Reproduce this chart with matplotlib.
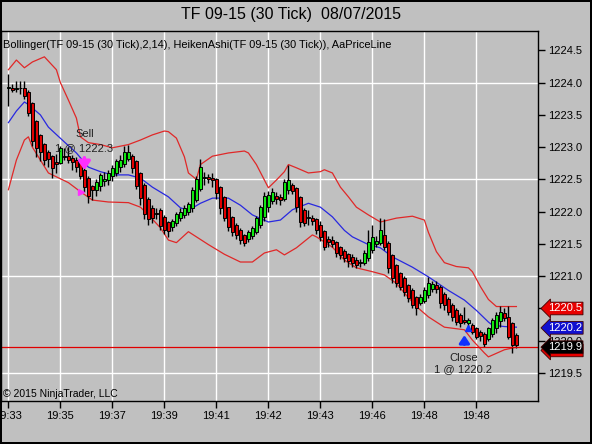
import matplotlib
matplotlib.use("Agg")
import matplotlib.pyplot as plt
import matplotlib.transforms as mtransforms
import numpy as np

plt.rcParams['font.family'] = ['Liberation Sans', 'DejaVu Sans']

# Heiken-Ashi bars (30 tick), one value per bar
ha_open = [1223.92, 1223.92, 1223.90, 1223.91, 1223.92, 1223.86, 1223.69, 1223.40, 1223.19, 1223.05,
           1222.93, 1222.87, 1222.77, 1222.76, 1222.87, 1222.86, 1222.83, 1222.80, 1222.75, 1222.65,
           1222.52, 1222.40, 1222.34, 1222.40, 1222.48, 1222.49, 1222.55, 1222.60, 1222.69, 1222.74,
           1222.82, 1222.87, 1222.78, 1222.60, 1222.42, 1222.20, 1222.05, 1221.98, 1222.02, 1221.92,
           1221.84, 1221.76, 1221.82, 1221.90, 1221.95, 1222.00, 1222.05, 1222.18, 1222.35, 1222.52,
           1222.54, 1222.52, 1222.50, 1222.38, 1222.22, 1222.07, 1221.92, 1221.80, 1221.72, 1221.64,
           1221.57, 1221.62, 1221.68, 1221.79, 1221.92, 1222.08, 1222.17, 1222.24, 1222.22, 1222.20,
           1222.33, 1222.41, 1222.36, 1222.22, 1222.03, 1221.92, 1221.90, 1221.88, 1221.80, 1221.70,
           1221.58, 1221.56, 1221.53, 1221.45, 1221.39, 1221.34, 1221.30, 1221.25, 1221.22, 1221.21,
           1221.28, 1221.40, 1221.50, 1221.52, 1221.64, 1221.52, 1221.33, 1221.17, 1221.05, 1220.97,
           1220.86, 1220.79, 1220.68, 1220.58, 1220.62, 1220.71, 1220.80, 1220.86, 1220.83, 1220.72,
           1220.64, 1220.56, 1220.48, 1220.40, 1220.32, 1220.28, 1220.25, 1220.20, 1220.13, 1220.10,
           1220.03, 1220.11, 1220.20, 1220.30, 1220.43, 1220.37, 1220.27, 1220.09]
ha_close = [1223.93, 1223.88, 1223.92, 1223.92, 1223.80, 1223.53, 1223.10, 1222.98, 1222.92, 1222.80,
            1222.82, 1222.68, 1222.74, 1222.98, 1222.84, 1222.80, 1222.77, 1222.70, 1222.55, 1222.38,
            1222.25, 1222.34, 1222.46, 1222.57, 1222.50, 1222.60, 1222.68, 1222.78, 1222.80, 1222.92,
            1222.93, 1222.68, 1222.40, 1222.21, 1221.96, 1221.88, 1221.90, 1221.97, 1221.78, 1221.72,
            1221.70, 1221.85, 1221.97, 1222.00, 1222.05, 1222.12, 1222.33, 1222.50, 1222.69, 1222.54,
            1222.50, 1222.49, 1222.29, 1222.06, 1221.90, 1221.77, 1221.69, 1221.64, 1221.56, 1221.51,
            1221.68, 1221.75, 1221.90, 1222.07, 1222.25, 1222.26, 1222.31, 1222.20, 1222.18, 1222.46,
            1222.49, 1222.32, 1222.07, 1221.84, 1221.82, 1221.90, 1221.86, 1221.72, 1221.60, 1221.45,
            1221.53, 1221.50, 1221.36, 1221.33, 1221.28, 1221.24, 1221.20, 1221.18, 1221.20, 1221.36,
            1221.53, 1221.61, 1221.55, 1221.72, 1221.45, 1221.13, 1220.97, 1220.89, 1220.83, 1220.76,
            1220.66, 1220.55, 1220.51, 1220.68, 1220.79, 1220.89, 1220.88, 1220.80, 1220.58, 1220.55,
            1220.45, 1220.37, 1220.29, 1220.27, 1220.29, 1220.32, 1220.14, 1220.06, 1220.07, 1219.95,
            1220.20, 1220.32, 1220.40, 1220.45, 1220.36, 1220.06, 1219.93, 1219.93]
ha_high = [1224.13, 1223.98, 1224.02, 1224.02, 1224.02, 1223.88, 1223.70, 1223.42, 1223.20, 1223.06,
           1222.95, 1222.88, 1222.90, 1223.02, 1222.98, 1223.00, 1222.88, 1222.85, 1222.80, 1222.68,
           1222.55, 1222.42, 1222.50, 1222.60, 1222.62, 1222.65, 1222.72, 1222.82, 1222.88, 1223.02,
           1223.03, 1222.90, 1222.80, 1222.62, 1222.44, 1222.22, 1222.10, 1222.05, 1222.06, 1221.95,
           1221.86, 1221.88, 1222.00, 1222.06, 1222.10, 1222.15, 1222.38, 1222.55, 1222.82, 1222.62,
           1222.58, 1222.60, 1222.52, 1222.40, 1222.24, 1222.08, 1221.94, 1221.82, 1221.74, 1221.66,
           1221.72, 1221.78, 1221.93, 1222.10, 1222.30, 1222.32, 1222.36, 1222.30, 1222.28, 1222.50,
           1222.73, 1222.44, 1222.38, 1222.24, 1222.05, 1222.02, 1221.95, 1221.90, 1221.85, 1221.72,
           1221.62, 1221.62, 1221.55, 1221.47, 1221.42, 1221.36, 1221.34, 1221.29, 1221.27, 1221.40,
           1221.72, 1221.80, 1221.62, 1221.90, 1221.88, 1221.55, 1221.35, 1221.19, 1221.07, 1221.00,
           1220.88, 1220.82, 1220.70, 1220.72, 1220.84, 1220.98, 1220.92, 1220.92, 1220.86, 1220.76,
           1220.68, 1220.58, 1220.51, 1220.43, 1220.52, 1220.36, 1220.28, 1220.22, 1220.16, 1220.14,
           1220.22, 1220.35, 1220.44, 1220.54, 1220.50, 1220.54, 1220.29, 1220.12]
ha_low = [1223.63, 1223.85, 1223.86, 1223.83, 1223.75, 1223.48, 1223.02, 1222.85, 1222.78, 1222.72,
          1222.70, 1222.52, 1222.60, 1222.74, 1222.80, 1222.76, 1222.65, 1222.62, 1222.50, 1222.30,
          1222.14, 1222.18, 1222.25, 1222.32, 1222.40, 1222.42, 1222.48, 1222.55, 1222.62, 1222.70,
          1222.78, 1222.60, 1222.35, 1222.10, 1221.88, 1221.80, 1221.82, 1221.88, 1221.72, 1221.66,
          1221.60, 1221.70, 1221.78, 1221.85, 1221.90, 1221.95, 1222.00, 1222.15, 1222.32, 1222.42,
          1222.45, 1222.38, 1222.20, 1221.96, 1221.85, 1221.70, 1221.62, 1221.58, 1221.50, 1221.47,
          1221.53, 1221.58, 1221.65, 1221.75, 1221.85, 1222.00, 1222.12, 1222.12, 1222.10, 1222.16,
          1222.28, 1222.28, 1222.00, 1221.76, 1221.78, 1221.79, 1221.80, 1221.65, 1221.55, 1221.40,
          1221.45, 1221.45, 1221.30, 1221.27, 1221.22, 1221.15, 1221.14, 1221.12, 1221.14, 1221.17,
          1221.24, 1221.36, 1221.45, 1221.48, 1221.40, 1221.05, 1220.90, 1220.84, 1220.78, 1220.70,
          1220.60, 1220.50, 1220.40, 1220.55, 1220.58, 1220.66, 1220.75, 1220.74, 1220.51, 1220.48,
          1220.40, 1220.30, 1220.24, 1220.22, 1220.26, 1220.22, 1220.10, 1220.02, 1220.00, 1219.90,
          1219.99, 1220.06, 1220.12, 1220.22, 1220.30, 1220.02, 1219.81, 1219.88]

# Bollinger(2,14) at some bars
upper_bar = [0, 2, 4, 6, 9, 12, 13, 15, 17, 18, 20, 23, 26, 30, 33, 36, 39, 40, 42, 44,
             45, 47, 48, 51, 55, 59, 60, 62, 64, 65, 67, 69, 70, 72, 75, 78, 79, 81, 83, 85,
             87, 90, 93, 97, 101, 104, 105, 107, 109, 112, 115, 116, 118, 120, 122, 127]
upper_val = [1224.20, 1224.35, 1224.23, 1224.32, 1224.40, 1224.20, 1224.00, 1223.73, 1223.45, 1223.16,
             1223.07, 1223.04, 1222.99, 1223.04, 1223.11, 1223.19, 1223.25, 1223.24, 1223.14, 1222.85,
             1222.60, 1222.50, 1222.73, 1222.86, 1222.91, 1222.94, 1222.91, 1222.73, 1222.49, 1222.37,
             1222.49, 1222.62, 1222.73, 1222.68, 1222.60, 1222.62, 1222.65, 1222.60, 1222.38, 1222.23,
             1222.07, 1221.95, 1221.84, 1221.90, 1221.93, 1221.87, 1221.68, 1221.38, 1221.21, 1221.15,
             1221.13, 1221.07, 1220.84, 1220.64, 1220.53, 1220.53]
middle_bar = [0, 2, 4, 5, 8, 10, 14, 17, 20, 23, 26, 30, 33, 36, 40, 43, 45, 48, 51, 55,
              58, 61, 65, 68, 71, 75, 78, 81, 84, 86, 90, 93, 96, 101, 105, 110, 114, 117, 120, 121,
              124, 127]
middle_val = [1223.38, 1223.56, 1223.70, 1223.66, 1223.50, 1223.31, 1223.08, 1222.91, 1222.69, 1222.62,
              1222.57, 1222.57, 1222.52, 1222.38, 1222.23, 1222.06, 1222.02, 1222.13, 1222.21, 1222.21,
              1222.10, 1221.95, 1221.84, 1221.87, 1222.03, 1222.13, 1222.07, 1221.92, 1221.71, 1221.61,
              1221.49, 1221.44, 1221.30, 1221.14, 1220.99, 1220.78, 1220.63, 1220.47, 1220.29, 1220.24,
              1220.22, 1220.21]
lower_bar = [0, 2, 4, 5, 6, 8, 10, 15, 18, 21, 25, 30, 33, 35, 38, 40, 42, 45, 47, 50,
             54, 58, 61, 64, 67, 69, 72, 76, 77, 81, 84, 87, 91, 94, 97, 99, 102, 105, 109, 114,
             116, 119, 120, 124, 127]
lower_val = [1222.34, 1222.80, 1223.11, 1223.16, 1223.00, 1222.80, 1222.60, 1222.45, 1222.31, 1222.18,
             1222.15, 1222.14, 1222.07, 1221.95, 1221.75, 1221.56, 1221.52, 1221.69, 1221.61, 1221.49,
             1221.34, 1221.22, 1221.22, 1221.36, 1221.41, 1221.33, 1221.44, 1221.64, 1221.61, 1221.45,
             1221.25, 1221.13, 1221.07, 1221.02, 1220.89, 1220.74, 1220.53, 1220.37, 1220.21, 1220.17,
             1220.01, 1219.81, 1219.75, 1219.86, 1219.90]

tick_bars = [0, 13, 26, 39, 52, 65, 78, 91, 104, 117]
tick_labels = ["19:33", "19:35", "19:37", "19:39", "19:41", "19:42", "19:43", "19:46", "19:48", "19:48"]
price_ticks = [1219.5, 1220.0, 1220.5, 1221.0, 1221.5, 1222.0, 1222.5, 1223.0, 1223.5, 1224.0, 1224.5]
grid_prices = [1219.5, 1221.0, 1222.5, 1224.0]
last_price = 1219.9

bg = '#c0c0c0'
fig = plt.figure(figsize=(5.92, 4.44), dpi=100, facecolor=bg)
fig.patch.set_edgecolor('black')
fig.patch.set_linewidth(1.5)
ax = fig.add_axes([1 / 592, 1 - 401 / 444, 537 / 592, 370 / 444])
ax.set_facecolor(bg)

x = np.arange(len(ha_open))
ax.set_xlim(-1.85, 132.4)
ax.set_ylim(1219.066, 1224.80)

# grid
for p in grid_prices:
    ax.axhline(p, color='white', lw=1, zorder=0)
for b in tick_bars:
    ax.axvline(b, color='white', lw=1, zorder=0)

# bands
ax.plot(upper_bar, upper_val, color='#e02828', lw=0.9, zorder=1)
ax.plot(lower_bar, lower_val, color='#e02828', lw=0.9, zorder=1)
ax.plot(middle_bar, middle_val, color='#2828e0', lw=0.9, zorder=1)

# candles
o = np.array(ha_open)
c = np.array(ha_close)
cols = np.where(c >= o, '#10e810', '#e00000')
ax.vlines(x, ha_low, ha_high, color='black', lw=1, zorder=2)
ax.bar(x, c - o, bottom=o, width=0.85, color=cols, edgecolor='black', linewidth=0.7, zorder=3)

# price line
ax.axhline(last_price, color='#e00000', lw=0.9, zorder=2)

# executions
ax.annotate('', xy=(19, 1222.60), xytext=(19, 1222.88),
            arrowprops=dict(arrowstyle='-|>,head_width=0.35,head_length=0.5', color='#ff30ff', lw=2.5), zorder=5)
ax.plot([18.2], [1222.3], marker='>', color='#ff30ff', ms=5, zorder=5)
ax.text(19, 1223.2, "Sell", ha='center', va='center', fontsize=8, color='#202020')
ax.text(19, 1222.99, "1 @ 1222.3", ha='center', va='center', fontsize=8, color='#202020')

ax.annotate('', xy=(114, 1220.13), xytext=(114, 1219.9),
            arrowprops=dict(arrowstyle='-|>,head_width=0.3,head_length=0.45', color='#1030ff', lw=2.2), zorder=5)
ax.plot([114.8], [1220.2], marker='^', color='#1030ff', ms=4, zorder=5)
ax.text(113.7, 1219.74, "Close", ha='center', va='center', fontsize=8, color='#202020')
ax.text(113.7, 1219.56, "1 @ 1220.2", ha='center', va='center', fontsize=8, color='#202020')

# axes styling
for s in ['top', 'bottom', 'left', 'right']:
    ax.spines[s].set_color('black')
    ax.spines[s].set_linewidth(1)
ax.yaxis.tick_right()
ax.set_yticks(price_ticks)
ax.set_yticklabels(["%.1f" % p for p in price_ticks])
ax.set_xticks(tick_bars)
ax.set_xticklabels(tick_labels)
ax.tick_params(axis='both', direction='out', length=5, width=1, labelsize=8, colors='black', pad=2)

# price markers on the right axis
tr = mtransforms.blended_transform_factory(ax.transAxes, ax.transData)
markers = [(1220.5, '#e80000'), (1220.2, '#1010d0'), (1219.85, '#e80000'), (1219.9, 'black')]
for val, col in markers:
    ax.text(1.018, val, "%.1f" % val, transform=tr, ha='left', va='center', fontsize=8, color='white',
            bbox=dict(boxstyle='larrow,pad=0.12', fc=col, ec='#400000', lw=0.6), clip_on=False)

fig.text(3 / 592, 1 - 44.5 / 444,
         "Bollinger(TF 09-15 (30 Tick),2,14), HeikenAshi(TF 09-15 (30 Tick)), AaPriceLine",
         ha='left', va='center', fontsize=7.9, color='black')
fig.text(3 / 592, 1 - 394 / 444, "\u00a9 2015 NinjaTrader, LLC", ha='left', va='center', fontsize=7.5, color='black')
fig.text(291 / 592, 1 - 15 / 444, "TF 09-15 (30 Tick)  08/07/2015", ha='center', va='center', fontsize=11.5, color='black')

fig.savefig('out.png', dpi=100, facecolor=bg, edgecolor='black')
